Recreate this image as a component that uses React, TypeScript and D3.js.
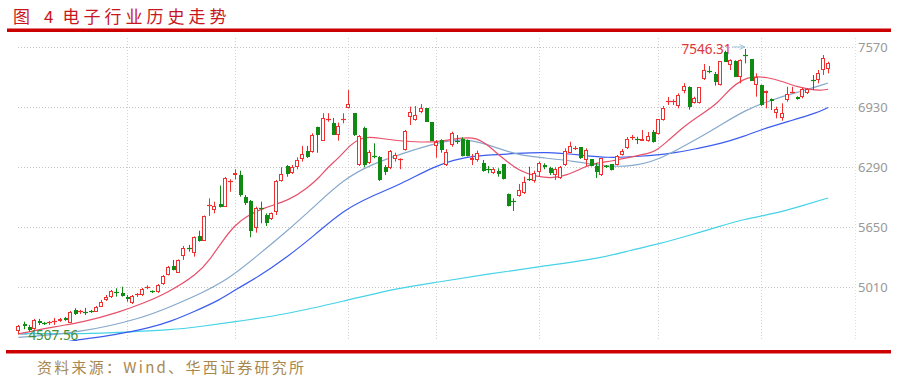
import React from 'react';
import * as d3 from 'd3';

// ---- Candle data (daily OHLC) ----
const opens = [4545,4616,4588,4563,4655,4630,4625,4636,4652,4678,4634,4769,4742,4742,4753,4751,4804,4875,4904,4963,4953,4904,4840,4923,4928,5005,4969,4957,5045,5141,5237,5166,5343,5430,5378,5556,5506,5875,5833,5891,5868,6136,6210,6210,5974,5928,5638,5856,5779,5734,5814,6141,6301,6223,6287,6375,6464,6453,6719,6567,6796,6762,6631,6792,6915,6862,6311,6708,6329,6412,6400,6287,6276,6372,6367,6471,6819,6790,6879,6915,6766,6514,6577,6311,6524,6565,6585,6577,6365,6365,6336,6264,6229,6251,6319,6003,5926,5982,6010,6165,6144,6240,6311,6276,6205,6170,6311,6442,6484,6500,6365,6372,6301,6205,6301,6317,6311,6418,6489,6601,6590,6570,6570,6666,6641,6790,6984,6984,6944,7104,7138,6971,6968,7226,7315,7283,7163,7517,7375,7421,7251,7487,7436,7163,7163,7074,7010,6865,6808,7003,7083,7038,7038,7074,7221,7216,7322,7330];
const highs = [4609,4644,4609,4673,4673,4641,4652,4684,4684,4694,4758,4787,4769,4790,4769,4811,4875,4928,4981,4999,5016,4928,4928,4949,5003,5031,4976,5045,5141,5237,5301,5306,5450,5460,5551,5612,5774,5957,5921,6093,6184,6159,6266,6251,5992,5939,5868,5921,5797,5806,6152,6287,6311,6311,6393,6514,6514,6649,6719,6862,6862,6812,6762,6862,7109,6865,6631,6719,6471,6542,6407,6311,6471,6442,6383,6684,6932,6939,6960,6918,6769,6577,6585,6478,6666,6631,6606,6583,6428,6464,6365,6301,6287,6276,6322,6008,5957,6109,6187,6293,6251,6347,6329,6293,6287,6301,6489,6559,6514,6503,6489,6375,6333,6386,6311,6322,6418,6482,6609,6631,6612,6684,6663,6684,6801,6939,7035,7010,7074,7181,7149,7038,7141,7386,7365,7301,7418,7528,7436,7426,7436,7546.31,7439,7287,7168,7104,7021,6932,6968,7144,7144,7042,7138,7131,7269,7322,7482,7411];
const lows = [4507.56,4563,4534,4556,4609,4609,4609,4609,4641,4652,4630,4715,4726,4715,4737,4747,4801,4864,4896,4910,4910,4857,4832,4907,4918,4989,4949,4949,5035,5136,5189,5162,5301,5389,5336,5495,5503,5769,5797,5859,5865,6027,6159,5974,5886,5542,5591,5691,5662,5726,5779,6134,6187,6216,6266,6347,6386,6442,6442,6567,6772,6631,6570,6755,6913,6620,6301,6287,6322,6383,6141,6205,6266,6347,6266,6464,6737,6783,6862,6769,6567,6389,6442,6301,6506,6535,6402,6402,6311,6347,6240,6223,6216,6187,6157,5870,5822,5974,6003,6141,6123,6187,6266,6205,6152,6162,6301,6436,6471,6375,6301,6296,6173,6194,6280,6253,6306,6412,6482,6577,6535,6570,6559,6549,6636,6783,6950,6950,6915,7074,6900,6966,6964,7216,7287,7157,7157,7407,7322,7248,7181,7393,7205,7038,6939,6915,6897,6808,6783,6985,7074,7006,7021,7067,7109,7181,7269,7287];
const closes = [4598,4598,4556,4662,4627,4620,4636,4646,4673,4662,4751,4726,4753,4731,4742,4797,4857,4910,4974,4946,4918,4882,4918,4933,4989,5015,4958,5035,5130,5229,5194,5301,5425,5418,5542,5506,5769,5886,5875,5861,6178,6146,6221,5992,5910,5612,5851,5843,5697,5797,6141,6212,6212,6287,6365,6428,6393,6631,6631,6808,6806,6631,6726,6803,6957,6631,6620,6311,6453,6402,6152,6240,6460,6418,6377,6673,6872,6843,6921,6772,6570,6559,6471,6453,6649,6554,6407,6407,6389,6436,6251,6253,6266,6216,6162,5875,5916,6045,6134,6154,6229,6329,6287,6223,6266,6293,6460,6514,6494,6383,6471,6301,6237,6383,6287,6258,6412,6460,6590,6611,6580,6585,6620,6559,6798,6915,6994,6994,7059,7157,6932,7021,7138,7322,7304,7198,7413,7411,7429,7251,7429,7476,7208,7251,6950,7099,6996,6904,6862,7064,7093,7010,7117,7117,7210,7293,7447,7393];

const maRedIdx = [0,7.5,12,19.7,24.2,28.8,34.8,37.1,39.7,42,44.3,47.4,52.7,56,58.5,59.8,62.4,64.3,66.2,68.2,70.1,74,77.9,81.8,85.6,88.9,91.4,93.9,97.3,100.6,103.7,106.4,108.9,111.4,115.3,118.6,122.5,123.8,125.8,128.9,132.2,135.5,138,140.5,142.4,145.2,148.3,151,153.5,155.4,157];
const maRedVal = [4513,4598,4630,4747,4840,4946,5152,5301,5513,5673,5769,5851,5939,6063,6187,6276,6400,6524,6595,6612,6595,6567,6553,6559,6602,6606,6506,6383,6240,6187,6170,6205,6266,6329,6354,6396,6436,6471,6559,6716,6843,6960,7127,7223,7251,7248,7198,7144,7115,7104,7117];
const maMidIdx = [0,11.9,24.2,29.8,35.2,40.8,46.5,51.9,57.5,63.1,68.6,74.2,80.8,86.2,90.9,96.5,102.1,107.5,113.2,118.6,124.2,129.8,135.3,140.9,146.5,152,157];
const maMidVal = [4476,4524,4683,4811,4939,5098,5354,5598,5875,6162,6322,6428,6545,6593,6535,6418,6386,6354,6301,6290,6365,6535,6705,6897,7014,7099,7184];
const maLongIdx = [4.2,11.4,18.7,25.5,29.8,33.9,39.1,42.3,46.5,51.9,57.5,63.1,68.6,74.2,80.8,85.6,90.9,96.5,102.3,108.9,114.1,120.5,126.9,131.6,136,140.9,143.8,149.6,154.8,157];
const maLongVal = [4385,4449,4503,4577,4652,4747,4875,4992,5120,5322,5567,5833,5982,6109,6301,6386,6418,6434,6450,6418,6386,6402,6434,6487,6535,6620,6684,6780,6865,6923];
const maYearIdx = [0,13.1,21,29.8,35.2,40.8,52,63.1,74.2,80.9,90.9,102,113.1,118.7,124.2,129.8,135.3,140.9,146.4,152,157];
const maYearVal = [4518,4513,4534,4556,4591,4633,4722,4864,5007,5060,5149,5238,5320,5405,5470,5558,5647,5737,5790,5878,5960];

// ---- Axes ----
const monthStarts = [21, 42, 64, 81, 101, 124, 144];
const yTicks = [5010, 5650, 6290, 6930, 7570];
const highIdx = 141;
const lowIdx = 0;
const highLabel = '7546.31';
const lowLabel = '4507.56';

const titleText = ['图', '4', '电子行业历史走势'];
const sourceText = '资料来源：Wind、华西证券研究所';

const RED = '#f22f2f';
const GREEN = '#0f8a12';

export default function App() {
  const plotL = 18, plotR = 855, plotT = 38, plotB = 341;
  const x = d3.scaleLinear().domain([0, 157]).range([18.4, 828.0]);
  const y = d3.scaleLinear().domain([4438, 7663]).range([plotB, plotT]);

  const mkLine = (idx: number[], val: number[]) =>
    d3.line<number>().x((_, i) => x(idx[i])).y((d) => y(d)).curve(d3.curveBasis)(val) || '';

  const candles = opens.map((o, i) => {
    const c = closes[i];
    const up = c >= o;
    const n = Math.round(x(i));
    const top = Math.round(y(Math.max(o, c)));
    const bot = Math.round(y(Math.min(o, c)));
    const hy = y(highs[i]);
    const ly = y(lows[i]);
    const wx = n + 0.5;
    const col = up ? RED : GREEN;
    const doji = bot - top <= 1;
    return (
      <g key={i}>
        {up ? (
          <>
            <line x1={wx} x2={wx} y1={hy} y2={top} stroke={col} strokeWidth={1} />
            <line x1={wx} x2={wx} y1={bot} y2={ly} stroke={col} strokeWidth={1} />
          </>
        ) : (
          <line x1={wx} x2={wx} y1={hy} y2={ly} stroke={col} strokeWidth={1} />
        )}
        {doji ? (
          <line x1={n - 2} x2={n + 3} y1={top + 0.5} y2={top + 0.5} stroke={col} strokeWidth={1.2} />
        ) : up ? (
          <rect x={n - 1.5} y={top + 0.5} width={3} height={bot - top - 1} fill="#ffffff" stroke={col} strokeWidth={1} />
        ) : (
          <rect x={n - 1} y={top} width={4} height={bot - top} fill={col} />
        )}
      </g>
    );
  });

  const hx = x(highIdx);
  const hyy = y(highs[highIdx]);
  const lx = x(lowIdx);
  const lyy = y(lows[lowIdx]);

  return (
    <svg width={897} height={378} style={{ position: 'absolute', left: 0, top: 0, background: '#fff' }}
      fontFamily="'Noto Sans', 'Liberation Sans', sans-serif">
      <defs>
        <clipPath id="plotclip">
          <rect x={plotL - 4} y={plotT} width={plotR - plotL + 4} height={plotB - plotT} />
        </clipPath>
        <marker id="arr" viewBox="0 0 6 6" refX={5} refY={3} markerWidth={6} markerHeight={6} orient="auto">
          <path d="M0,0.5 L5.5,3 L0,5.5" fill="none" stroke="#9fc3d9" strokeWidth={1} />
        </marker>
      </defs>

      {/* Title */}
      <g fill="#c8161e" fontFamily="'Noto Sans CJK SC', sans-serif" fontSize={17} dominantBaseline="central">
        <text x={13} y={15.5}>{titleText[0]}</text>
        <text x={44} y={15.5}>{titleText[1]}</text>
        <text x={62.5} y={15.5} letterSpacing={4}>{titleText[2]}</text>
      </g>
      <rect x={7} y={28.5} width={884} height={3.5} fill="#cc0000" />

      {/* Grid */}
      {yTicks.map((t) => (
        <line key={'h' + t} x1={plotL} x2={plotR} y1={Math.round(y(t)) + 0.5} y2={Math.round(y(t)) + 0.5}
          stroke="#c4c4c4" strokeWidth={1} strokeDasharray="1,2" />
      ))}
      {monthStarts.map((m) => (
        <line key={'v' + m} x1={Math.round(x(m)) + 0.5} x2={Math.round(x(m)) + 0.5} y1={plotT} y2={plotB}
          stroke="#d0d0d0" strokeWidth={1} strokeDasharray="1,2" />
      ))}
      <line x1={plotR + 0.5} x2={plotR + 0.5} y1={plotT} y2={plotB} stroke="#e0e0e0" strokeWidth={1} strokeDasharray="1,2" />

      {/* Y labels */}
      {yTicks.map((t) => (
        <text key={'l' + t} x={858} y={y(t)} fill="#999999" fontSize={13} dominantBaseline="central">{t}</text>
      ))}

      <g clipPath="url(#plotclip)">
        {/* MAs */}
        <path d={mkLine(maYearIdx, maYearVal)} fill="none" stroke="#45d3e6" strokeWidth={1.2} />
        <path d={mkLine(maLongIdx, maLongVal)} fill="none" stroke="#3b5cf0" strokeWidth={1.2} />
        <path d={mkLine(maMidIdx, maMidVal)} fill="none" stroke="#86a9cc" strokeWidth={1.2} />
        <path d={mkLine(maRedIdx, maRedVal)} fill="none" stroke="#e8506a" strokeWidth={1.2} />
        {candles}
      </g>

      {/* Annotations */}
      <text x={hx - 14} y={hyy + 0.5} textAnchor="end" fill="#e03838" fontSize={13.5} dominantBaseline="central">{highLabel}</text>
      <line x1={hx - 13} x2={hx - 1} y1={hyy - 2} y2={hyy - 2} stroke="#9fc3d9" strokeWidth={1} markerEnd="url(#arr)" />
      <line x1={lx + 1} x2={lx + 9} y1={lyy} y2={lyy} stroke="#9fc3d9" strokeWidth={1} />
      <text x={lx + 10} y={lyy + 1} fill="#3f8f35" fontSize={13.5} dominantBaseline="central">{lowLabel}</text>

      {/* Bottom rule + source */}
      <rect x={6} y={350} width={885} height={3.5} fill="#cc0000" />
      <text x={37} y={366} fill="#a8874f" fontSize={15} fontFamily="'Noto Sans CJK SC', sans-serif"
        dominantBaseline="central" textLength={267} lengthAdjust="spacing">{sourceText}</text>
    </svg>
  );
}
